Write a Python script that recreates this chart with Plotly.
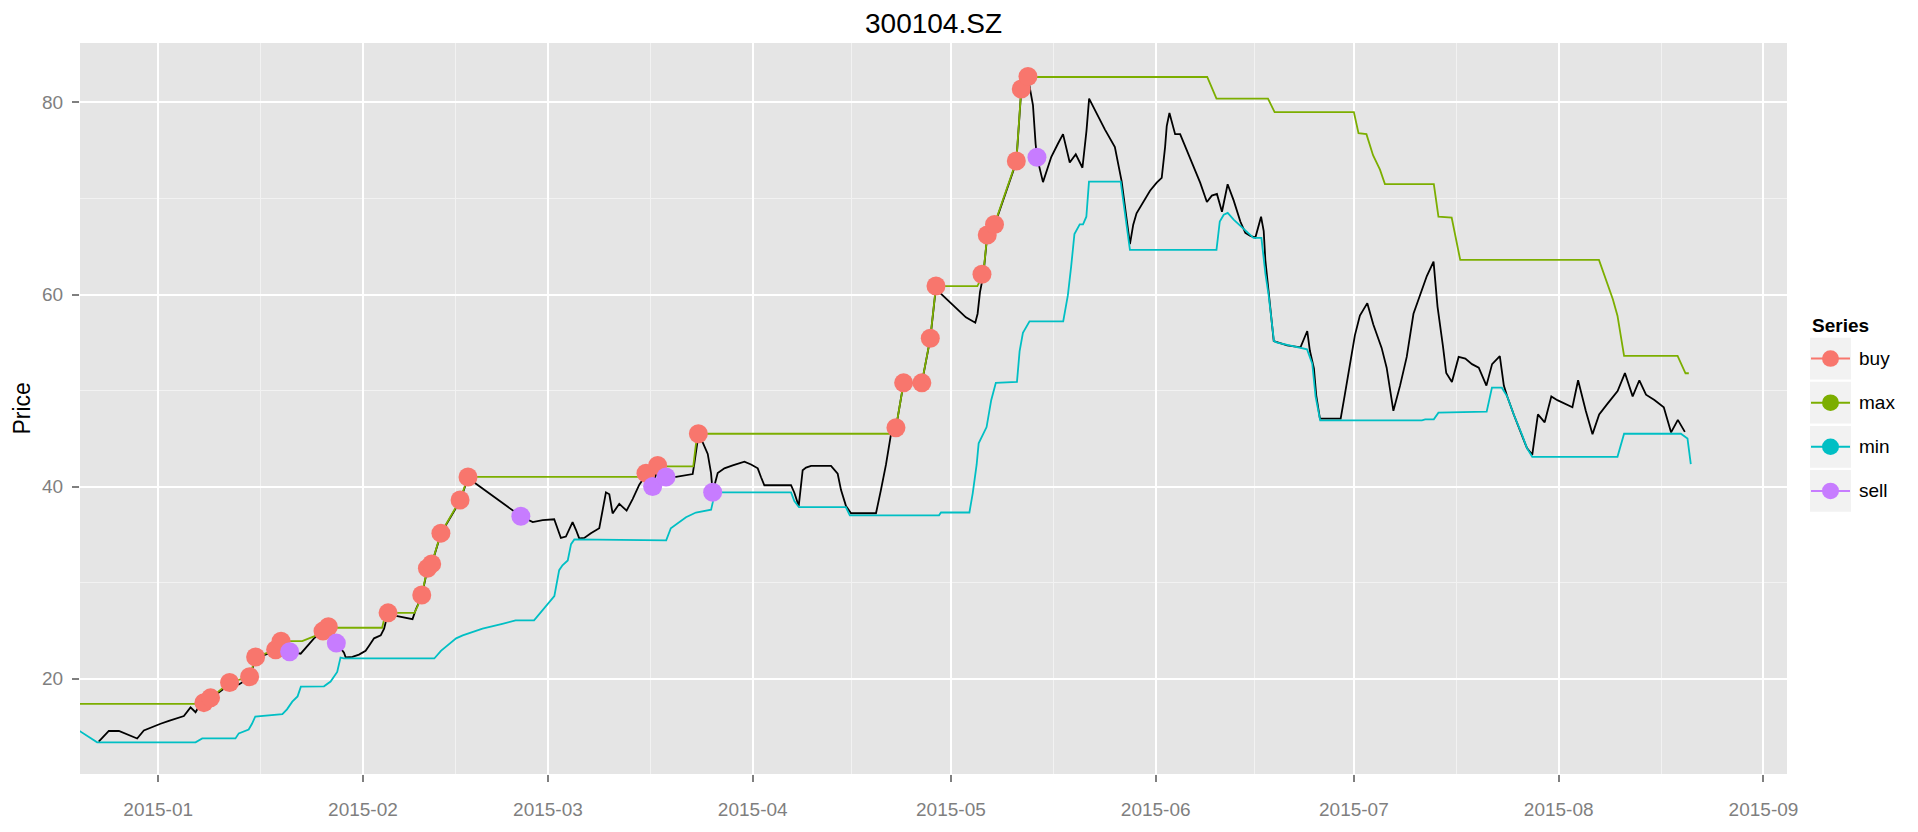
import pandas as pd
import plotly.graph_objects as go

BASE_DATE = "2015-01-01"   # day offsets below are counted from this date

# ---- close price (black line) ----
close_day = [-9.0, -7.47, -5.95, -4.44, -3.18, -2.17, -1.16, 0.36, 1.62, 2.88, 3.89, 4.9, 5.66, 6.17, 6.92, 7.93,
             10.81, 12.23, 13.84, 14.75, 17.78, 18.6, 19.9, 21.57, 23.59, 24.95, 25.76, 26.11, 26.97, 28.13, 28.39,
             29.4, 30.4, 31.4, 31.9, 32.68, 33.69, 34.2, 34.45, 34.8, 36.2, 38.5, 39.0, 39.9, 40.76, 41.4, 42.8,
             45.7, 46.9, 54.9, 56.7, 58.2, 59.95, 60.46, 60.96, 61.72, 62.73, 63.24, 63.74, 64.5, 65.5, 66.77,
             67.28, 67.78, 68.29, 68.79, 69.8, 70.91, 71.82, 72.83, 73.84, 74.85, 75.61, 76.87, 78.39, 80.91,
             81.16, 81.77, 82.43, 83.19, 83.69, 83.94, 84.7, 85.71, 86.97, 88.74, 89.75, 90.76, 91.26, 91.76,
             95.8, 96.3, 96.96, 97.56, 98.07, 98.83, 101.85, 102.86, 103.36, 104.12, 104.88, 108.66, 109.41,
             110.17, 110.93, 111.68, 112.84, 115.6, 116.88, 117.74, 118.24, 120.76, 122.27, 123.69, 124.04,
             124.4, 124.9, 125.5, 126.6, 129.9, 130.65, 131.66, 132.16, 132.42, 132.82, 133.03, 133.94, 135.2,
             136.2, 136.97, 137.99, 138.9, 139.91, 140.52, 140.92, 142.04, 143.3, 144.82, 145.33, 145.84, 147.1,
             147.6, 148.1, 149.13, 150.14, 151.15, 151.91, 152.42, 152.67, 153.08, 153.94, 154.7, 155.71, 156.72,
             157.73, 158.75, 159.5, 160.27, 161.03, 161.89, 162.8, 163.81, 164.57, 165.33, 166.09, 166.95,
             167.35, 167.6, 167.86, 168.3, 168.87, 170.9, 172.92, 173.94, 174.34, 174.95, 175.3, 175.86, 177.38,
             179.0, 179.63, 180.39, 181.15, 181.91, 183.03, 183.94, 185.2, 185.96, 186.98, 187.99, 189.0, 190.02,
             190.78, 192.04, 193.06, 193.66, 194.48, 194.98, 195.84, 196.86, 197.87, 198.88, 199.9, 201.06,
             201.92, 203.09, 203.7, 204.2, 205.2, 206.5, 207.2, 208.0, 208.86, 209.88, 210.89, 211.8, 213.07,
             214.08, 214.94, 216.1, 217.12, 218.13, 219.4, 220.92, 222.03, 223.2, 224.21, 225.22, 226.49,
             227.91, 229.02, 230.04, 231.1]
close_val = [13.43, 14.55, 14.55, 14.1, 13.77, 14.6, 14.9, 15.3, 15.6, 15.9, 16.1, 17.0, 16.5, 17.1, 17.4, 17.9,
             19.4, 19.4, 20.1, 22.1, 22.9, 23.7, 22.8, 22.6, 24.2, 24.9, 25.3, 24.5, 23.7, 22.7, 22.2,
             22.26, 22.5, 22.9, 23.4, 24.2, 24.5, 25.2, 25.9, 26.7, 26.5, 26.2, 27.2, 28.6, 31.4, 31.9, 35.1,
             38.5, 40.9, 36.9, 36.3, 36.5, 36.6, 35.66, 34.65, 34.8, 36.3, 35.5, 34.6, 34.65, 35.15, 35.66,
             37.7, 39.4, 39.2, 37.2, 38.2, 37.5, 38.7, 40.2, 41.2, 40.0, 41.9, 41.0, 41.0, 41.3,
             42.4, 45.3, 44.6, 43.4, 41.4, 39.4, 41.4, 41.9, 42.2, 42.6, 42.3, 41.9, 40.97, 40.14,
             40.14, 39.36, 37.97, 41.7, 41.98, 42.16, 42.16, 41.34, 39.66, 37.97, 37.22, 37.22, 39.66,
             42.28, 45.46, 46.1, 50.8, 50.8, 55.4, 60.8, 60.24, 58.56, 57.62, 57.06, 58.0,
             60.24, 62.0, 66.1, 67.2, 73.8, 81.3, 82.6, 80.9, 79.73, 75.7, 74.3, 71.7, 74.34,
             75.7, 76.7, 73.74, 74.6, 73.2, 77.04, 80.4, 78.9, 77.2, 75.35, 73.67, 71.8, 65.25,
             67.27, 68.45, 69.63, 70.8, 71.65, 72.15, 75.35, 77.54, 78.9, 76.7, 76.7, 75.02, 73.33,
             71.65, 69.63, 70.3, 70.47, 68.62, 71.48, 69.8, 67.6, 66.43, 66.1, 65.93, 68.1,
             66.6, 63.57, 61.9, 58.5, 55.15, 54.7, 54.5, 56.2, 54.14, 52.3, 49.5, 47.07, 47.07,
             47.07, 49.57, 52.75, 55.75, 57.8, 59.1, 56.87, 54.44, 52.38, 47.89, 50.51, 53.5, 57.99,
             59.49, 61.92, 63.42, 58.74, 54.63, 51.82, 50.88, 53.5, 53.32, 52.75, 52.38, 50.51,
             52.75, 53.58, 50.51, 49.4, 47.5, 45.3, 44.0, 43.3, 47.51, 46.69, 49.39, 49.0, 48.56,
             48.26, 51.07, 47.89, 45.46, 47.51, 48.64, 49.95, 51.82, 49.39, 51.07, 49.57, 49.01,
             48.26, 45.64, 46.95, 45.7]

# ---- rolling max (green) ----
max_day = [-12.02, 5.66, 6.92, 7.93, 10.81, 13.84, 14.75, 17.78, 18.6, 21.8, 23.59, 24.95, 25.76, 27.1, 33.9,
           34.45, 34.8, 38.8, 39.3, 39.9, 40.76, 41.4, 42.8, 45.7, 46.9, 72.83, 73.84, 75.61, 81.0, 81.4,
           81.77, 111.1, 111.68, 112.84, 115.6, 116.88, 117.74, 124.0, 124.9, 125.5, 126.6, 129.9, 130.65,
           131.66, 158.8, 160.2, 168.0, 169.0, 181.0, 181.7, 182.9, 183.9, 184.95, 185.7, 193.1, 193.8, 195.8,
           197.1, 218.1, 219.4, 220.2, 220.9, 221.9, 230.0, 231.2, 231.7]
max_val = [17.37, 17.37, 17.5, 18.0, 19.6, 20.2, 22.25, 23.0, 23.9, 23.9, 24.4, 24.95, 25.4, 25.3, 25.3,
           26.85, 26.85, 26.85, 27.6, 28.7, 31.5, 31.95, 35.15, 38.6, 41.0, 41.0, 41.4, 42.1, 42.1, 44.4,
           45.5, 45.5, 46.13, 50.8, 50.8, 55.45, 60.88, 60.88, 62.1, 66.2, 67.3, 73.9, 81.4,
           82.65, 82.65, 80.4, 80.4, 79.0, 79.0, 76.8, 76.7, 74.5, 73.0, 71.5, 71.5, 68.1, 68.0,
           63.6, 63.6, 61.0, 59.5, 57.8, 53.6, 53.6, 51.8, 51.8]

# ---- rolling min (cyan) ----
min_day = [-12.02, -9.24, 5.66, 6.67, 11.7, 12.2, 13.7, 14.2, 14.7, 18.8, 19.5, 20.3, 21.1, 21.6, 25.1, 26.1,
           27.1, 27.6, 28.1, 41.8, 42.8, 45.1, 46.1, 49.1, 52.1, 54.1, 56.9, 58.7, 59.97, 60.7, 61.2, 62.0,
           62.5, 63.0, 76.9, 77.6, 78.4, 79.9, 81.4, 83.7, 83.95, 84.2, 95.8, 96.3, 97.0, 104.1, 104.7, 118.2,
           118.5, 122.8, 123.3, 123.9, 124.2, 124.8, 125.4, 126.1, 126.8, 130.0, 130.4, 130.9, 131.9, 137.0,
           137.7, 138.2, 138.7, 139.5, 140.0, 140.5, 140.9, 145.7, 146.1, 146.6, 147.1, 160.2, 160.7, 161.3,
           161.9, 162.8, 165.1, 165.8, 167.0, 167.6, 168.1, 168.9, 169.4, 172.9, 173.9, 174.7, 175.2, 175.9,
           191.3, 191.8, 193.1, 193.8, 201.1, 201.9, 203.4, 204.2, 205.2, 206.5, 207.2, 208.0, 220.9, 221.9,
           230.5, 231.5, 232.0]
min_val = [14.6, 13.37, 13.37, 13.77, 13.77, 14.3, 14.7, 15.3, 16.06, 16.3, 16.8, 17.6, 18.15, 19.16, 19.2, 19.7,
           20.7, 22.2, 22.1, 22.1, 22.9, 24.2, 24.5, 25.2, 25.7, 26.06, 26.06, 27.6, 28.6, 31.3, 31.8, 32.3,
           34.0, 34.5, 34.4, 35.66, 36.06, 36.8, 37.3, 37.6, 38.35, 39.4, 39.4, 38.5, 37.85, 37.85, 37.0, 37.0,
           37.3, 37.3, 39.3, 42.3, 44.5, 45.3, 46.2, 49.0, 50.8, 50.9, 54.1, 56.0, 57.2, 57.2,
           59.9, 62.9, 66.3, 67.3, 67.3, 68.1, 71.75, 71.75, 69.6, 67.3, 64.65, 64.65, 67.6, 68.3,
           68.5, 67.8, 66.3, 65.9, 65.9, 62.2, 59.9, 55.15, 55.0, 54.5, 54.3, 52.8, 49.4, 46.9,
           46.9, 47.0, 47.0, 47.7, 47.8, 50.3, 50.3, 49.4, 47.5, 45.3, 44.0, 43.1, 43.1, 45.5,
           45.5, 45.0, 42.35]

# ---- trade signals ----
buy_day = [6.92, 7.93, 10.81, 13.84, 14.75, 17.78, 18.6, 24.95, 25.76, 34.8, 39.9, 40.76, 41.4, 42.8, 45.7, 46.9,
           73.84, 75.61, 81.77, 111.68, 112.84, 115.6, 116.88, 117.74, 124.7, 125.5, 126.6, 129.9, 130.65, 131.66]
buy_val = [17.5, 18.0, 19.6, 20.2, 22.25, 23.0, 23.9, 24.95, 25.4, 26.85, 28.7, 31.5, 31.95, 35.15, 38.6, 41.0,
           41.4, 42.2, 45.5, 46.13, 50.8, 50.8, 55.45, 60.88, 62.1, 66.2, 67.3, 73.9, 81.4, 82.7]
sell_day = [19.9, 26.97, 54.9, 74.85, 76.87, 83.94, 133.03]
sell_val = [22.8, 23.7, 36.9, 40.0, 41.0, 39.4, 74.3]

series_names = ["buy", "max", "min", "sell"]
series_colors = ["#F8766D", "#7CAE00", "#00BFC4", "#C77CFF"]

month_ticks = ["2015-01-01", "2015-02-01", "2015-03-01", "2015-04-01", "2015-05-01",
               "2015-06-01", "2015-07-01", "2015-08-01", "2015-09-01"]
month_mid = ["2015-01-16 12:00", "2015-02-15", "2015-03-16 12:00", "2015-04-16", "2015-05-16 12:00",
             "2015-06-16", "2015-07-16 12:00", "2015-08-16 12:00"]
y_major = [20, 40, 60, 80]
y_minor = [30, 50, 70]


def to_dates(days):
    return pd.Timestamp(BASE_DATE) + pd.to_timedelta(days, unit="D")


FONT = "Liberation Sans, Arial, sans-serif"
col = dict(zip(series_names, series_colors))

fig = go.Figure()
fig.add_trace(go.Scatter(x=to_dates(close_day), y=close_val, mode="lines",
                         line=dict(color="black", width=1.8), hoverinfo="skip", showlegend=False))
fig.add_trace(go.Scatter(x=to_dates(max_day), y=max_val, mode="lines",
                         line=dict(color=col["max"], width=1.8), hoverinfo="skip", showlegend=False))
fig.add_trace(go.Scatter(x=to_dates(min_day), y=min_val, mode="lines",
                         line=dict(color=col["min"], width=1.8), hoverinfo="skip", showlegend=False))
fig.add_trace(go.Scatter(x=to_dates(buy_day), y=buy_val, mode="markers",
                         marker=dict(color=col["buy"], size=19, line=dict(width=0)),
                         hoverinfo="skip", showlegend=False))
fig.add_trace(go.Scatter(x=to_dates(sell_day), y=sell_val, mode="markers",
                         marker=dict(color=col["sell"], size=19, line=dict(width=0)),
                         hoverinfo="skip", showlegend=False))

W, H = 1918, 832
ML, MR, MT, MB = 80, 131, 43, 35
PW, PH = W - ML - MR, H - MT - MB


def px(x):
    return (x - ML) / PW


def py(y):
    return (H - MB - y) / PH


shapes = []
annotations = []
# title and axis title
annotations.append(dict(text="300104.SZ", x=0.5, y=py(23), xref="paper", yref="paper",
                        showarrow=False, xanchor="center", yanchor="middle",
                        font=dict(family=FONT, size=28, color="black")))
annotations.append(dict(text="Price", x=px(21), y=0.5, xref="paper", yref="paper",
                        showarrow=False, textangle=-90, xanchor="center", yanchor="middle",
                        font=dict(family=FONT, size=23, color="black")))
# custom ggplot-style legend
LX = 1810          # legend key left edge (px)
KW, KH, KS = 41, 43, 45.5
annotations.append(dict(text="<b>Series</b>", x=px(LX), y=py(334), xref="paper", yref="paper",
                        showarrow=False, xanchor="left", yanchor="middle",
                        font=dict(family=FONT, size=19, color="black")))
for i, name in enumerate(series_names):
    top = 347 + KS * i
    bot = top + KH
    cy = (top + bot) / 2
    cx = LX + KW / 2
    shapes.append(dict(type="rect", xref="paper", yref="paper", x0=px(LX), x1=px(LX + KW),
                       y0=py(bot), y1=py(top), fillcolor="#F2F2F2", line=dict(width=0), layer="above"))
    shapes.append(dict(type="line", xref="paper", yref="paper", x0=px(LX + 1), x1=px(LX + KW - 1),
                       y0=py(cy), y1=py(cy), line=dict(color=col[name], width=2), layer="above"))
    shapes.append(dict(type="circle", xref="paper", yref="paper", x0=px(cx - 8.5), x1=px(cx + 8.5),
                       y0=py(cy + 8.5), y1=py(cy - 8.5), fillcolor=col[name], line=dict(width=0),
                       layer="above"))
    annotations.append(dict(text=name, x=px(LX + KW + 6), y=py(cy), xref="paper", yref="paper",
                            showarrow=False, xanchor="left", yanchor="middle",
                            font=dict(family=FONT, size=19, color="black")))

fig.update_layout(
    width=W, height=H,
    margin=dict(l=ML, r=MR, t=MT, b=MB, pad=0),
    paper_bgcolor="white", plot_bgcolor="#E5E5E5",
    showlegend=False,
    shapes=shapes, annotations=annotations,
    xaxis=dict(type="date", range=["2014-12-20 04:00", "2015-09-04 13:30"],
               tickvals=month_ticks, tickformat="%Y-%m",
               showgrid=True, gridcolor="white", gridwidth=2,
               minor=dict(tickvals=month_mid, showgrid=True, gridcolor="#F2F2F2", gridwidth=1.2),
               ticks="outside", ticklen=7, tickwidth=1.5, tickcolor="#7F7F7F",
               ticklabelstandoff=11,
               tickfont=dict(family=FONT, size=19, color="#7F7F7F"),
               zeroline=False, showline=False, fixedrange=True),
    yaxis=dict(range=[10.07, 86.19], tickvals=y_major,
               showgrid=True, gridcolor="white", gridwidth=2,
               minor=dict(tickvals=y_minor, showgrid=True, gridcolor="#F2F2F2", gridwidth=1.2),
               ticks="outside", ticklen=7, tickwidth=1.5, tickcolor="#7F7F7F",
               ticklabelstandoff=5,
               tickfont=dict(family=FONT, size=19, color="#7F7F7F"),
               zeroline=False, showline=False, fixedrange=True),
)

fig.write_html("out.html", config={"displayModeBar": False},
               post_script="document.body.style.margin='0px';document.body.style.overflow='hidden';")
